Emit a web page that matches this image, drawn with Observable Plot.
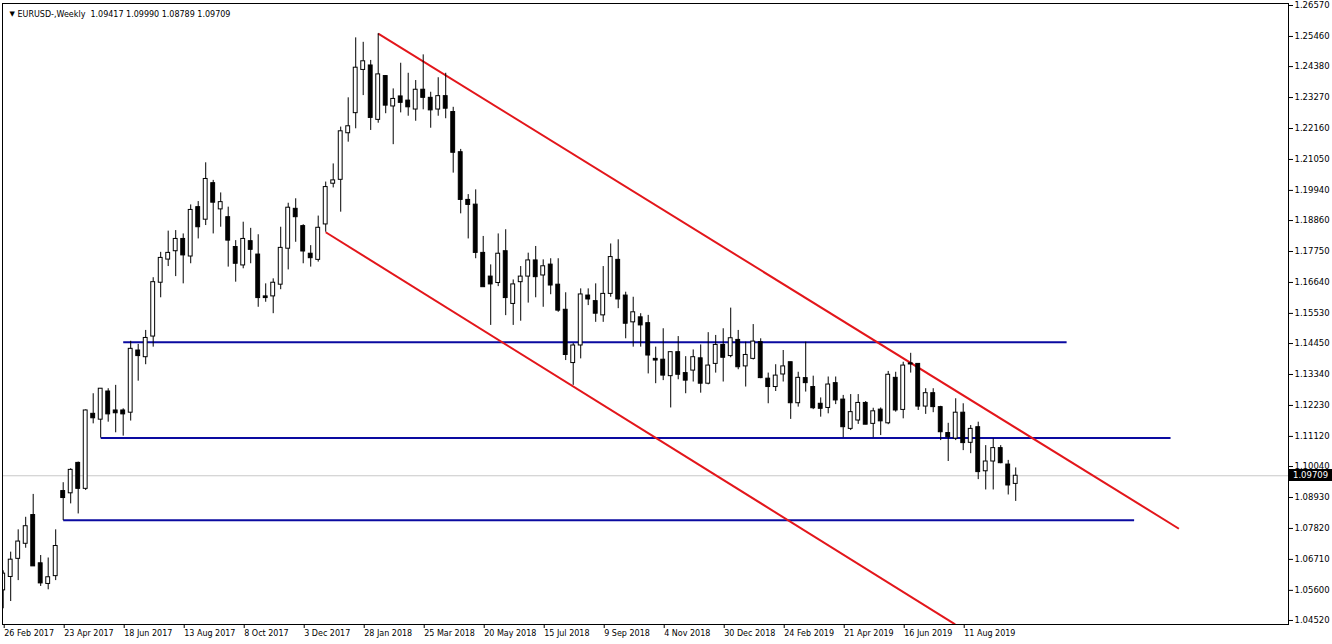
<!DOCTYPE html>
<html><head><meta charset="utf-8">
<script src="https://cdn.jsdelivr.net/npm/d3@7"></script>
<script src="https://cdn.jsdelivr.net/npm/@observablehq/plot@0.6"></script>
<style>html,body{margin:0;padding:0;background:#fff;overflow:hidden}#chart svg{display:block}</style>
</head><body><div id="chart"></div>
<script>
const symbolTitle = "EURUSD-,Weekly";
const firstWeek = "2017-02-26";
const afterLastWeek = "2019-09-30";

const opens = [
1.0560,1.0608,1.0673,1.0727,1.0830,1.0657,1.0583,1.0611,1.0916,1.0908,
1.1017,1.0924,1.1193,1.1172,1.1273,1.1205,1.1205,1.1197,1.1420,1.1396,
1.1470,1.1663,1.1746,1.1776,1.1820,1.1757,1.1934,1.1889,1.2020,1.1926,
1.1898,1.1791,1.1725,1.1812,1.1764,1.1614,1.1614,1.1656,1.1785,1.1928,
1.1866,1.1767,1.1745,1.1872,1.2018,1.2032,1.2199,1.2271,1.2426,1.2442,
1.2247,1.2404,1.2295,1.2331,1.2316,1.2284,1.2355,1.2326,1.2284,1.2332,
1.2275,1.2131,1.1960,1.1943,1.1770,1.1685,1.1662,1.1776,1.1587,1.1665,
1.1685,1.1743,1.1689,1.1728,1.1656,1.1566,1.1375,1.1438,1.1617,1.1597,
1.1546,1.1623,1.1745,1.1617,1.1521,1.1539,1.1518,1.1390,1.1387,1.1328,
1.1414,1.1339,1.1348,1.1392,1.1301,1.1372,1.1440,1.1400,1.1458,1.1363,
1.1390,1.1450,1.1319,1.1289,1.1334,1.1378,1.1231,1.1321,1.1289,1.1229,
1.1214,1.1303,1.1244,1.1139,1.1169,1.1232,1.1157,1.1208,1.1159,1.1322,
1.1207,1.1374,1.1372,1.1219,1.1267,1.1217,1.1124,1.1104,1.1197,1.1089,
1.1145,1.0987,1.1022,1.1070,1.1011,1.09417];
const highs = [
1.0630,1.0697,1.0777,1.0822,1.0904,1.0685,1.0676,1.0777,1.0946,1.0996,
1.1020,1.1207,1.1265,1.1283,1.1283,1.1295,1.1211,1.1453,1.1442,1.1492,
1.1681,1.1772,1.1848,1.1850,1.1838,1.1942,1.1954,1.2093,1.2030,1.1985,
1.1934,1.1814,1.1880,1.1858,1.1835,1.1659,1.1677,1.1862,1.1948,1.1964,
1.1871,1.1796,1.1902,1.2024,1.2089,1.2221,1.2326,1.2541,1.2525,1.2460,
1.2556,1.2406,1.2358,1.2450,1.2414,1.2388,1.2480,1.2346,1.2398,1.2414,
1.2292,1.2141,1.1979,1.1996,1.1829,1.1727,1.1838,1.1853,1.1673,1.1721,
1.1769,1.1793,1.1745,1.1749,1.1749,1.1627,1.1445,1.1641,1.1641,1.1659,
1.1721,1.1802,1.1817,1.1629,1.1611,1.1552,1.1546,1.1432,1.1498,1.1414,
1.1470,1.1398,1.1422,1.1440,1.1484,1.1474,1.1498,1.1572,1.1492,1.1450,
1.1513,1.1462,1.1339,1.1369,1.1420,1.1378,1.1342,1.1450,1.1328,1.1250,
1.1325,1.1325,1.1259,1.1262,1.1262,1.1237,1.1213,1.1214,1.1345,1.1342,
1.1378,1.1410,1.1372,1.1283,1.1283,1.1220,1.1159,1.1247,1.1229,1.1151,
1.1163,1.1079,1.1103,1.1079,1.1026,1.09990];
const lows = [
1.0494,1.0520,1.0595,1.0711,1.0646,1.0574,1.0562,1.0595,1.0810,1.0870,
1.0834,1.0918,1.1157,1.1106,1.1163,1.1125,1.1113,1.1167,1.1310,1.1369,
1.1432,1.1609,1.1721,1.1685,1.1659,1.1731,1.1820,1.1868,1.1838,1.1862,
1.1719,1.1665,1.1713,1.1731,1.1575,1.1593,1.1552,1.1638,1.1709,1.1808,
1.1731,1.1719,1.1737,1.1844,1.2003,1.1916,1.2167,1.2215,1.2334,1.2209,
1.2235,1.2269,1.2158,1.2272,1.2260,1.2242,1.2283,1.2217,1.2260,1.2251,
1.2056,1.1910,1.1820,1.1749,1.1647,1.1510,1.1649,1.1545,1.1510,1.1525,
1.1590,1.1609,1.1575,1.1620,1.1557,1.1384,1.1295,1.1390,1.1581,1.1521,
1.1521,1.1611,1.1570,1.1462,1.1432,1.1432,1.1336,1.1301,1.1312,1.1214,
1.1315,1.1265,1.1307,1.1267,1.1297,1.1339,1.1307,1.1394,1.1351,1.1289,
1.1386,1.1319,1.1229,1.1273,1.1307,1.1173,1.1217,1.1271,1.1208,1.1181,
1.1193,1.1226,1.1107,1.1133,1.1155,1.1154,1.1107,1.1115,1.1154,1.1199,
1.1175,1.1339,1.1205,1.1191,1.1197,1.1097,1.1022,1.1097,1.1061,1.1050,
1.0957,1.0920,1.0920,1.1014,1.0902,1.08789];
const closes = [
1.0620,1.0670,1.0735,1.0790,1.0646,1.0585,1.0607,1.0719,1.0891,1.0992,
1.0924,1.1205,1.1177,1.1283,1.1191,1.1195,1.1191,1.1426,1.1400,1.1465,
1.1665,1.1752,1.1770,1.1820,1.1761,1.1924,1.1862,1.2035,1.1950,1.1952,
1.1814,1.1731,1.1820,1.1781,1.1608,1.1608,1.1663,1.1788,1.1932,1.1898,
1.1775,1.1751,1.1860,1.2006,1.2030,1.2206,1.2224,1.2434,1.2457,1.2254,
1.2410,1.2298,1.2322,1.2308,1.2292,1.2355,1.2326,1.2281,1.2332,1.2287,
1.2129,1.1960,1.1942,1.1770,1.1647,1.1657,1.1767,1.1608,1.1657,1.1685,
1.1743,1.1683,1.1722,1.1653,1.1563,1.1404,1.1438,1.1621,1.1603,1.1552,
1.1623,1.1755,1.1603,1.1516,1.1557,1.1510,1.1402,1.1384,1.1330,1.1414,
1.1333,1.1312,1.1396,1.1301,1.1366,1.1440,1.1394,1.1464,1.1360,1.1404,
1.1452,1.1321,1.1289,1.1330,1.1363,1.1231,1.1322,1.1303,1.1213,1.1211,
1.1298,1.1241,1.1145,1.1199,1.1232,1.1154,1.1202,1.1166,1.1333,1.1205,
1.1366,1.1370,1.1219,1.1267,1.1217,1.1127,1.1109,1.1197,1.1088,1.1139,
1.0984,1.1022,1.1070,1.1016,1.0936,1.09709];

const yTicks = [1.26570,1.25460,1.24380,1.23270,1.22160,1.21050,1.19940,1.18860,1.17750,1.16640,1.15530,
1.14450,1.13340,1.12230,1.11120,1.10040,1.08930,1.07820,1.06710,1.05600,1.04520];
const xTickDates = ["2017-02-26","2017-04-23","2017-06-18","2017-08-13","2017-10-08","2017-12-03","2018-01-28",
"2018-03-25","2018-05-20","2018-07-15","2018-09-09","2018-11-04","2018-12-30","2019-02-24","2019-04-21","2019-06-16","2019-08-11"];
const xTickLabels = ["26 Feb 2017","23 Apr 2017","18 Jun 2017","13 Aug 2017","8 Oct 2017","3 Dec 2017","28 Jan 2018",
"25 Mar 2018","20 May 2018","15 Jul 2018","9 Sep 2018","4 Nov 2018","30 Dec 2018","24 Feb 2019","21 Apr 2019","16 Jun 2019","11 Aug 2019"];

// horizontal support/resistance levels (blue)
const levelPrices = [1.1450, 1.1106, 1.0811];
const levelStarts = ["2017-06-18", "2017-05-28", "2017-04-23"];
const levelEnds   = ["2019-11-15T12:00", "2020-02-20T12:00", "2020-01-17T12:00"];
// descending channel (red)
const channelStartDates = ["2018-02-11", "2017-12-24"];
const channelStartPrices = [1.2556, 1.1844];
const channelEndDates = ["2020-02-28T08:00", "2019-08-03T12:00"];
const channelEndPrices = [1.0781, 1.0438];

// ---- build tables ----
const U = s => new Date(s.length > 10 ? s + "Z" : s + "T00:00Z");
const dates = d3.utcSunday.range(U(firstWeek), U(afterLastWeek));
const candles = dates.map((d, i) => ({date: d, open: opens[i], high: highs[i], low: lows[i], close: closes[i]}));
const levels = levelPrices.map((p, i) => ({price: p, from: U(levelStarts[i]), to: U(levelEnds[i])}));
const channel = channelStartPrices.map((p, i) => ({from: U(channelStartDates[i]), p1: p, to: U(channelEndDates[i]), p2: channelEndPrices[i]}));
const last = candles[candles.length - 1];
const titleText = `${symbolTitle}  ${last.open.toFixed(5)} ${last.high.toFixed(5)} ${last.low.toFixed(5)} ${last.close.toFixed(5)}`;
const xTicks = xTickDates.map(U);

const WEEK = 7 * 864e5, DAY = 864e5;
const t0 = U(firstWeek).getTime();
const half = 1.8 * DAY;
const FONT = "DejaVu Sans";

function priceTag(index, scales, values, dimensions) {
  const y = scales.y(last.close);
  const x0 = dimensions.width - dimensions.marginRight + 1;
  const g = d3.create("svg:g");
  g.append("rect").attr("x", x0).attr("y", Math.round(y) - 6).attr("width", 43).attr("height", 12).attr("fill", "black");
  g.append("text").attr("x", x0 + 4).attr("y", y).attr("dy", "0.35em").attr("fill", "white")
    .attr("text-anchor", "start").attr("font-family", FONT).attr("font-size", 8.5).text(last.close.toFixed(5));
  return g.node();
}

const plot = Plot.plot({
  width: 1332, height: 644,
  marginLeft: 2, marginRight: 44, marginTop: 3, marginBottom: 20,
  style: {fontFamily: FONT, fontSize: "8.5px", background: "white", color: "black"},
  x: {type: "utc", domain: [new Date(t0 - 0.0933 * WEEK), new Date(t0 + 171.37 * WEEK)], axis: null},
  y: {domain: [1.04376, 1.26642], axis: null},
  marks: [
    Plot.ruleY([last.close], {stroke: "#c8c8c8", strokeWidth: 1}),
    Plot.link(levels, {x1: "from", x2: "to", y1: "price", y2: "price", stroke: "#0a0aa0", strokeWidth: 2}),
    Plot.link(channel, {x1: "from", x2: "to", y1: "p1", y2: "p2", stroke: "#e3161b", strokeWidth: 2, clip: true}),
    Plot.ruleX(candles, {x: "date", y1: "low", y2: "high", stroke: "black", strokeWidth: 1, clip: true}),
    Plot.rect(candles, {
      x1: d => new Date(+d.date - half), x2: d => new Date(+d.date + half),
      y1: "open", y2: "close",
      fill: d => d.close >= d.open ? "white" : "black", stroke: "black", strokeWidth: 1, clip: true
    }),
    Plot.frame({stroke: "black"}),
    Plot.axisY(yTicks, {anchor: "right", tickSize: 4, tickPadding: 2, tickFormat: d => d.toFixed(5), fontSize: 8.5, textAnchor: "start"}),
    Plot.axisX(xTicks, {anchor: "bottom", tickSize: 4, tickPadding: 2, textAnchor: "start", dx: 1,
      tickFormat: d => xTickLabels[xTicks.findIndex(t => +t === +d)], fontSize: 8}),
    Plot.text(["▼"], {frameAnchor: "top-left", dx: 7, dy: 8, fontSize: 7, fill: "black"}),
    Plot.text([titleText], {frameAnchor: "top-left", dx: 15, dy: 8, textAnchor: "start", fontSize: 8, fill: "black"}),
    priceTag
  ]
});
document.getElementById("chart").append(plot);
</script></body></html>
